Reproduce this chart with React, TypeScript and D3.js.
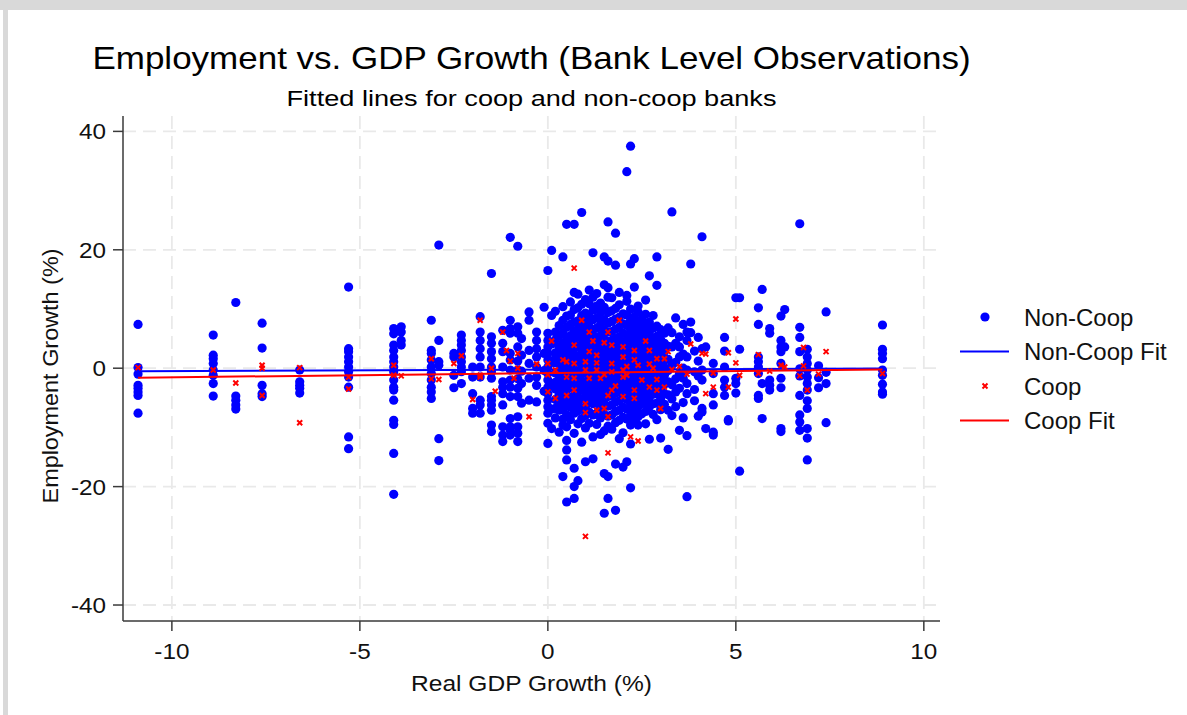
import React from "react";
import * as d3 from "d3";

// ---- Data -------------------------------------------------------------
// Non-coop bank observations, grouped by real GDP growth (x) with the
// employment growth values (y) observed at that GDP growth rate.
const nonCoopColumns: [number, number[]][] = [
  [-10.9, [7.4, 0.1, -1.0, -2.9, -3.4, -4.0, -4.6, -7.6]],
  [-8.9, [5.6, 2.2, 1.6, 0.8, -0.3, -1.2, -2.6, -4.7]],
  [-8.3, [11.1, -4.7, -5.4, -6.2, -6.9]],
  [-7.6, [7.6, 3.4, -2.9, -4.3, -4.8]],
  [-6.6, [-0.3, -2.3, -2.9, -3.4, -4.2]],
  [-5.3, [13.7, 3.3, 2.8, 1.9, 1.1, 0.2, -0.6, -1.5, -3.2, -11.6, -13.6]],
  [-4.1, [6.7, 5.8, 3.9, 3.0, 1.9, 1.1, 0.2, -0.6, -2.0, -3.2, -3.7, -5.4, -8.8, -9.5, -14.4, -21.3]],
  [-3.9, [7.0, 6.1, 4.7, 3.9]],
  [-3.1, [8.1, 3.0, 2.5, 1.4, 0.2, -0.9, -2.0, -3.2, -4.0, -5.1]],
  [-2.9, [20.8, 4.7, 1.1, 0.5, -11.9, -15.6]],
  [-2.5, [2.5, 1.9, -1.2, -3.3]],
  [-2.3, [5.6, 4.7, 3.9, 3.0, 1.9, 1.1, 0.2, -0.6, -2.6]],
  [-2.0, [0.2, -1.5, -4.3, -6.8, -7.6]],
  [-1.8, [8.7, 6.1, 4.7, 3.3, 1.9, 0.2, -1.5, -5.4, -6.2, -7.6]],
  [-1.5, [16.0, 5.3, 4.2, 2.8, 1.6, 0.2, -0.6, -1.7, -4.8, -5.4, -6.2, -7.1, -9.6, -10.7]],
  [-1.2, [6.4, 4.2, 2.8, 0.2, -2.3, -3.2, -4.3, -6.2, -9.9, -11.3, -12.4]],
  [-1.0, [22.1, 8.1, 6.7, 5.9, 2.5, 1.4, -0.3, -2.0, -3.2, -4.8, -8.5, -9.9, -10.5, -11.3]],
  [-0.8, [20.6, 7.0, 5.9, 3.6, 1.2, -0.3, -1.8, -3.4, -4.8, -8.2, -9.9, -11.0, -12.4]],
  [-0.7, [5.0, 2.2, -0.5, -2.6, -5.9]],
  [-0.5, [9.5, 8.1, 3.0, 0.8, -1.7, -5.4]],
  [-0.3, [6.1, 4.7, 3.3, 1.9, 0.2, -1.5, -2.9, -5.7]],
  [-0.1, [10.3, 2.5, -0.4, -3.9]],
  [0.0, [16.5, 5.9, 4.7, 3.6, 2.5, 1.4, 0.2, -0.9, -2.0, -3.2, -4.3, -5.4, -6.5, -7.6, -9.3, -12.7]],
  [0.1, [19.9, 8.9, 4.1, 1.0, -2.6, -6.9, -10.2]],
  [0.2, [9.6, 6.1, 4.8, 2.6, 1.7, 0.9, -0.8, -2.4, -3.5, -5.3, -6.8, -8.4]],
  [0.3, [7.2, 5.5, 3.6, 2.0, 0.9, -0.5, -1.4, -2.7, -4.4, -6.4, -7.1, -10.8]],
  [0.4, [18.8, 10.4, 8.1, 6.0, 4.3, 2.8, 1.5, 0.3, -0.9, -2.4, -3.8, -5.3, -7.0, -8.6, -9.6, -18.3]],
  [0.5, [24.3, 8.8, 6.9, 5.2, 3.9, 2.5, 1.2, -0.1, -1.6, -3.0, -4.5, -6.2, -7.9, -9.9, -12.2, -13.8, -15.5, -22.6]],
  [0.6, [11.2, 9.0, 7.4, 5.5, 4.4, 3.3, 1.8, 0.3, -0.6, -2.2, -3.3, -5.1, -6.6, -8.7]],
  [0.7, [24.3, 12.8, 9.9, 7.8, 6.3, 4.9, 3.4, 2.1, 0.9, -0.4, -1.7, -3.1, -4.6, -6.1, -7.6, -11.0, -16.9, -20.0, -22.0]],
  [0.8, [12.5, 10.2, 8.0, 6.6, 5.3, 3.7, 2.1, 1.1, -0.5, -1.4, -2.9, -4.0, -5.8, -7.2, -9.4, -19.0]],
  [0.9, [26.3, 10.8, 8.9, 7.1, 5.5, 4.1, 2.7, 1.4, 0.2, -1.0, -2.3, -3.7, -5.2, -6.9, -8.5, -12.5]],
  [1.0, [11.6, 9.3, 7.7, 6.2, 4.6, 3.0, 1.9, 0.4, -0.7, -2.3, -3.4, -4.8, -6.5, -8.0, -10.1, -15.8]],
  [1.1, [13.2, 10.9, 8.7, 7.0, 5.4, 3.9, 2.5, 1.2, -0.1, -1.3, -2.6, -4.1, -5.7, -7.4, -9.3]],
  [1.2, [19.5, 12.0, 9.8, 8.2, 6.4, 4.6, 3.4, 2.0, 0.5, -0.5, -1.9, -3.2, -4.7, -6.0, -7.9, -11.6, -15.3]],
  [1.3, [12.6, 10.5, 8.5, 6.8, 5.2, 3.7, 2.3, 1.0, -0.3, -1.6, -2.9, -4.3, -5.9, -7.6, -9.5]],
  [1.4, [11.0, 9.4, 7.3, 5.5, 4.2, 2.6, 1.5, 0.3, -1.1, -2.2, -3.8, -5.1, -6.9, -8.4, -11.2]],
  [1.5, [18.8, 14.1, 10.3, 8.2, 6.4, 4.9, 3.5, 2.1, 0.8, -0.4, -1.7, -3.0, -4.4, -6.0, -7.8, -10.6, -17.8, -24.5]],
  [1.6, [24.7, 18.1, 13.6, 12.0, 9.4, 7.6, 6.1, 4.5, 3.1, 1.7, 0.5, -0.8, -2.0, -3.3, -4.8, -6.4, -8.1, -9.8, -18.3, -22.0]],
  [1.7, [11.9, 9.7, 7.9, 6.2, 4.7, 3.2, 1.9, 0.6, -0.6, -1.9, -3.2, -4.6, -6.2, -7.9, -10.3]],
  [1.8, [22.8, 17.4, 10.1, 8.3, 6.6, 5.0, 3.6, 2.2, 0.9, -0.3, -1.5, -2.8, -4.2, -5.7, -7.3, -9.2, -16.2, -24.0]],
  [1.9, [12.8, 10.7, 8.6, 6.9, 5.3, 3.8, 2.4, 1.1, -0.1, -1.3, -2.6, -4.0, -5.5, -7.1, -8.8, -11.9]],
  [2.0, [9.2, 7.5, 5.9, 4.4, 3.0, 1.6, 0.4, -0.8, -2.1, -3.5, -5.0, -6.6, -8.3, -10.9, -16.7]],
  [2.1, [33.2, 12.3, 11.3, 9.0, 7.2, 5.6, 4.1, 2.7, 1.3, 0.1, -1.1, -2.4, -3.8, -5.3, -6.9, -8.6, -15.8]],
  [2.2, [37.5, 17.6, 10.0, 8.1, 6.5, 4.9, 3.4, 2.0, 0.8, -0.5, -1.8, -3.1, -4.6, -6.2, -7.9, -9.6, -12.8, -20.2]],
  [2.3, [18.5, 13.7, 8.7, 6.9, 5.4, 3.9, 2.5, 1.2, -0.1, -1.4, -2.7, -4.1, -5.6, -7.3, -9.0]],
  [2.4, [10.5, 9.5, 7.6, 6.0, 4.5, 3.1, 1.8, 0.5, -0.7, -2.0, -3.4, -4.9, -6.5, -8.2, -9.6]],
  [2.5, [8.3, 6.6, 5.0, 3.6, 2.2, 0.9, -0.4, -1.7, -3.0, -4.5, -6.0, -7.7]],
  [2.6, [11.5, 9.1, 7.2, 5.5, 4.0, 2.6, 1.3, 0.0, -1.3, -2.6, -4.0, -5.6, -7.3, -9.4]],
  [2.7, [15.6, 7.8, 6.1, 4.6, 3.2, 1.9, 0.6, -0.7, -2.0, -3.4, -4.9, -6.5, -12.0]],
  [2.8, [8.9, 6.8, 5.1, 3.7, 2.3, 1.0, -0.3, -1.6, -3.0, -4.4, -6.0, -7.8]],
  [2.9, [18.8, 14.0, 7.1, 5.4, 3.9, 2.5, 1.2, -0.1, -1.4, -2.8, -4.3, -5.9, -8.7]],
  [3.0, [6.5, 4.8, 3.3, 1.9, 0.6, -0.7, -2.1, -3.6, -5.2, -7.0, -11.8]],
  [3.1, [5.9, 4.2, 2.8, 1.4, 0.1, -1.2, -2.7, -4.3, -6.1]],
  [3.2, [6.8, 3.7, 1.5, -0.4, -2.3, -4.5, -7.1, -13.7]],
  [3.3, [26.4, 6.0, 3.6, 0.5, -2.8, -5.2, -8.0]],
  [3.4, [8.5, 4.2, 1.0, -1.8, -4.0, -6.5]],
  [3.5, [5.3, 3.6, 1.9, -0.9, -3.4, -10.5]],
  [3.6, [7.4, 2.4, 0.0, -1.7, -5.8, -8.4]],
  [3.7, [6.1, 4.7, 1.9, -0.3, -2.6, -4.3, -11.4, -21.7]],
  [3.8, [17.6, 7.8, 6.0]],
  [3.9, [2.9, -0.6, -3.6, -5.5]],
  [4.0, [5.2, 1.2, -1.3, -8.1]],
  [4.1, [22.2, 3.3, -0.3, -2.0, -6.8, -7.4]],
  [4.2, [3.6, -10.2]],
  [4.4, [0.8, -0.9, -4.3, -6.2, -10.8, -11.3]],
  [4.7, [5.2, 2.9, 0.2, -2.0, -3.2, -4.6]],
  [4.8, [-8.7, -8.9]],
  [5.0, [11.9, -1.7, -2.6, -4.2]],
  [5.1, [11.9, 3.2, -17.4]],
  [5.6, [10.2, 7.4, 1.9, 1.1, 0.2, -0.9, -4.6, -5.1]],
  [5.7, [13.3, -2.6, -8.5]],
  [5.9, [6.7, 5.9, -2.0, -2.9, -3.7]],
  [6.2, [8.8, 4.7, 3.6, 2.8, 0.8, -1.7, -3.3, -10.2, -10.7]],
  [6.3, [9.9, 3.6]],
  [6.7, [24.4, 6.9, 5.2, 2.8, -0.1, -1.3, -4.6, -7.9, -9.1, -10.5]],
  [6.9, [3.2, 1.9, 0.8, -0.3, -1.5, -2.6, -3.7, -5.5, -6.8, -10.2, -11.8, -15.5]],
  [7.2, [0.4, -1.6, -3.3]],
  [7.4, [9.5, -0.7, -2.6, -9.2]],
  [8.9, [7.3, 3.2, 2.5, 1.6, -0.3, -1.2, -2.7, -4.0, -4.4]],
];

// Coop bank observations: [real GDP growth, employment growth].
const coopPoints: [number, number][] = [
  [-10.9, 0.1], [-8.9, -0.3], [-8.3, -2.5], [-7.6, 0.5], [-7.6, 0.0], [-7.6, -4.6],
  [-6.6, 0.1], [-6.6, -9.2], [-5.3, -1.5], [-5.3, -3.5], [-4.1, 0.5], [-4.1, -1.2],
  [-3.9, -1.3], [-3.1, 1.6], [-3.1, -1.8], [-2.9, -1.9], [-2.5, 0.8], [-2.3, 2.1],
  [-2.0, -5.3], [-1.8, 8.1], [-1.8, -1.5], [-1.8, -1.2], [-1.5, 0.0], [-1.4, -3.9],
  [-1.2, 6.1], [-1.1, 3.0], [-1.0, 1.2], [-0.9, -1.7], [-0.8, 2.5], [-0.8, 0.0],
  [-0.5, -8.2], [-0.3, 0.7], [0.0, 0.8], [0.0, -1.1], [0.0, -4.0], [0.1, 4.6],
  [0.2, -5.1], [0.2, -0.3], [0.4, 1.4], [0.5, 1.1], [0.5, -4.6], [0.5, -1.5],
  [0.7, 16.9], [0.7, 3.9], [0.7, 0.8], [0.7, -1.7], [0.7, -3.7], [0.9, 8.1],
  [1.0, -6.0], [1.0, -7.5], [1.0, 1.1], [1.0, -0.3], [1.0, -28.4], [1.1, 6.1],
  [1.1, 2.8], [1.1, -1.7], [1.2, 4.6], [1.3, 0.9], [1.3, -7.1], [1.3, 2.2],
  [1.3, -0.3], [1.4, -1.7], [1.5, 4.3], [1.5, -1.1], [1.5, -6.8], [1.6, 6.1],
  [1.6, -4.6], [1.6, -8.2], [1.6, -14.3], [1.7, 3.9], [1.7, 0.8], [1.7, -0.6],
  [1.7, -3.7], [1.8, -3.0], [1.9, 8.1], [2.0, 3.6], [2.0, 1.9], [2.0, -1.5],
  [2.0, -4.8], [2.0, -0.3], [2.1, 0.3], [2.1, -1.2], [2.2, -11.6], [2.3, 3.0],
  [2.3, 1.4], [2.3, -3.7], [2.3, -5.1], [2.4, 0.5], [2.4, -12.3], [2.5, -2.0],
  [2.6, 4.6], [2.7, 3.0], [2.7, 0.7], [2.7, -3.2], [2.8, 0.0], [2.9, 1.6],
  [2.9, -1.9], [2.9, -3.7], [3.0, -6.8], [3.1, 1.6], [3.1, -3.2], [3.2, 2.8],
  [3.3, -0.2], [3.5, 0.3], [3.7, -1.0], [3.8, 4.1], [4.1, 2.5], [4.2, 2.4],
  [4.2, -4.3], [4.4, -3.2], [4.4, -0.8], [4.8, 2.6], [4.8, -3.2], [5.0, 8.3],
  [5.0, 0.9], [5.1, -1.2], [5.6, 2.3], [5.6, -0.9], [5.9, -0.5], [6.2, 0.5],
  [6.3, 0.2], [6.8, 3.5], [6.8, 0.4], [6.7, -1.3], [6.9, -3.7], [7.2, -1.0],
  [7.4, 2.8], [8.9, -0.9],
];

// Linear fit end points (x, fitted y) for each group.
const nonCoopFit: [number, number][] = [[-10.9, -0.5], [8.9, -0.05]];
const coopFit: [number, number][] = [[-10.9, -1.6], [8.9, -0.2]];

const xTicks = [-10, -5, 0, 5, 10];
const yTicks = [-40, -20, 0, 20, 40];

const legendItems = [
  { label: "Non-Coop", kind: "dot" },
  { label: "Non-Coop Fit", kind: "blueLine" },
  { label: "Coop", kind: "cross" },
  { label: "Coop Fit", kind: "redLine" },
];

// ---- Layout ------------------------------------------------------------
const W = 1187;
const H = 715;
const plot = { left: 123, right: 940, top: 116, bottom: 621 };
const FONT = "'Liberation Sans', Arial, Helvetica, sans-serif";
const BLUE = "#0000ff";
const RED = "#ff0000";
const GRID = "#e9e9e9";
const AXIS = "#3a3a3a";

export default function App() {
  const x = d3.scaleLinear().domain([-11.3, 10.43]).range([plot.left, plot.right]);
  const y = d3.scaleLinear().domain([-42.7, 42.6]).range([plot.bottom, plot.top]);
  const line = d3
    .line<[number, number]>()
    .x((d) => x(d[0]))
    .y((d) => y(d[1]));

  const nonCoopPoints: [number, number][] = nonCoopColumns.flatMap(([gx, ys]) =>
    ys.map((v) => [gx, v] as [number, number])
  );

  const cx = (plot.left + plot.right) / 2;
  const crossPath = "M-2.5,-2.5L2.5,2.5M-2.5,2.5L2.5,-2.5";

  return (
    <svg
      width={W}
      height={H}
      style={{ position: "absolute", left: 0, top: 0, background: "#fff" }}
      fontFamily={FONT}
    >
      {/* outer frame */}
      <rect x={0} y={0} width={W} height={10} fill="#d9d9d9" />
      <rect x={3} y={0} width={5} height={H} fill="#d9d9d9" />

      {/* titles */}
      <text
        transform={`translate(${cx},69) scale(1.14,1)`}
        textAnchor="middle"
        fontSize={30.7}
        fill="#000"
      >
        Employment vs. GDP Growth (Bank Level Observations)
      </text>
      <text
        transform={`translate(${cx},105.5) scale(1.19,1)`}
        textAnchor="middle"
        fontSize={22.8}
        fill="#000"
      >
        Fitted lines for coop and non-coop banks
      </text>

      {/* grid */}
      <g stroke={GRID} strokeWidth={1.8} strokeDasharray="13,7">
        {xTicks.map((t) => (
          <line key={"gx" + t} x1={x(t)} x2={x(t)} y1={plot.top} y2={plot.bottom} />
        ))}
        {yTicks.map((t) => (
          <line key={"gy" + t} x1={plot.left} x2={plot.right} y1={y(t)} y2={y(t)} />
        ))}
      </g>

      {/* non-coop scatter and fit */}
      <g fill={BLUE}>
        {nonCoopPoints.map((d, i) => (
          <circle key={"n" + i} cx={x(d[0])} cy={y(d[1])} r={4.6} />
        ))}
      </g>
      <path d={line(nonCoopFit) || ""} fill="none" stroke={BLUE} strokeWidth={2} />

      {/* coop scatter and fit */}
      <g stroke={RED} strokeWidth={2} fill="none">
        {coopPoints.map((d, i) => (
          <path key={"c" + i} d={crossPath} transform={`translate(${x(d[0])},${y(d[1])})`} />
        ))}
      </g>
      <path d={line(coopFit) || ""} fill="none" stroke={RED} strokeWidth={2} />

      {/* axes */}
      <g stroke={AXIS} strokeWidth={1.5}>
        <line x1={plot.left} x2={plot.left} y1={plot.top} y2={plot.bottom} />
        <line x1={plot.left} x2={plot.right} y1={plot.bottom} y2={plot.bottom} />
        {xTicks.map((t) => (
          <line key={"tx" + t} x1={x(t)} x2={x(t)} y1={plot.bottom} y2={plot.bottom + 10} />
        ))}
        {yTicks.map((t) => (
          <line key={"ty" + t} x1={plot.left - 10} x2={plot.left} y1={y(t)} y2={y(t)} />
        ))}
      </g>
      <g fontSize={22.3} fill="#111">
        {xTicks.map((t) => (
          <text
            key={"lx" + t}
            transform={`translate(${x(t)},659) scale(1.09,1)`}
            textAnchor="middle"
          >
            {t}
          </text>
        ))}
        {yTicks.map((t) => (
          <text
            key={"ly" + t}
            transform={`translate(106,${y(t) + 8}) scale(1.09,1)`}
            textAnchor="end"
          >
            {t}
          </text>
        ))}
      </g>

      {/* axis titles */}
      <text
        transform={`translate(${cx},691) scale(1.1,1)`}
        textAnchor="middle"
        fontSize={22.3}
        fill="#111"
      >
        Real GDP Growth (%)
      </text>
      <text
        transform={`translate(58,376) rotate(-90) scale(1.05,1)`}
        textAnchor="middle"
        fontSize={22.3}
        fill="#111"
      >
        Employment Growth (%)
      </text>

      {/* legend */}
      <g>
        {legendItems.map((it, i) => {
          const ly = 317 + i * 34.5;
          return (
            <g key={it.label}>
              {it.kind === "dot" && <circle cx={985} cy={ly} r={4.6} fill={BLUE} />}
              {it.kind === "cross" && (
                <path
                  d={crossPath}
                  transform={`translate(985,${ly})`}
                  stroke={RED}
                  strokeWidth={2}
                  fill="none"
                />
              )}
              {(it.kind === "blueLine" || it.kind === "redLine") && (
                <line
                  x1={960}
                  x2={1009}
                  y1={ly}
                  y2={ly}
                  stroke={it.kind === "blueLine" ? BLUE : RED}
                  strokeWidth={2}
                />
              )}
              <text x={1024} y={ly + 8.7} fontSize={24} fill="#111">
                {it.label}
              </text>
            </g>
          );
        })}
      </g>
    </svg>
  );
}
